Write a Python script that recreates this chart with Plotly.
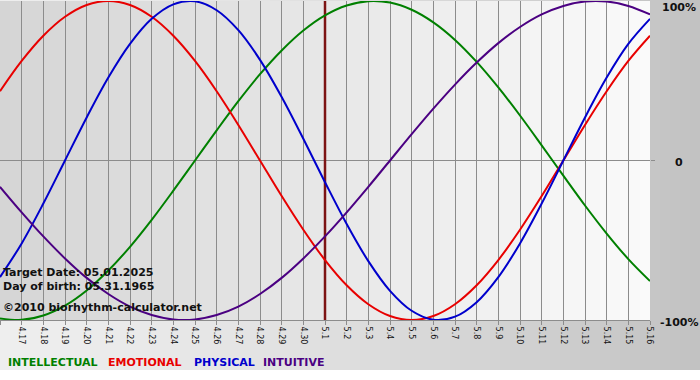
import plotly.graph_objects as go

# ---- data ----
day_labels = ["4.16", "4.17", "4.18", "4.19", "4.20", "4.21", "4.22", "4.23", "4.24", "4.25",
              "4.26", "4.27", "4.28", "4.29", "4.30", "5.1", "5.2", "5.3", "5.4", "5.5",
              "5.6", "5.7", "5.8", "5.9", "5.10", "5.11", "5.12", "5.13", "5.14", "5.15", "5.16"]
day_index = list(range(len(day_labels)))

intellectual = [-0.990, -0.999, -0.972, -0.910, -0.815, -0.690, -0.541, -0.372, -0.189, 0.000,
                0.189, 0.372, 0.541, 0.690, 0.815, 0.910, 0.972, 0.999, 0.990, 0.945,
                0.866, 0.756, 0.618, 0.458, 0.282, 0.095, -0.095, -0.282, -0.458, -0.618, -0.756]
emotional = [0.434, 0.624, 0.782, 0.901, 0.975, 1.000, 0.975, 0.901, 0.782, 0.624,
             0.434, 0.223, 0.000, -0.223, -0.434, -0.624, -0.782, -0.901, -0.975, -1.000,
             -0.975, -0.901, -0.782, -0.624, -0.434, -0.223, 0.000, 0.223, 0.434, 0.624, 0.782]
physical = [-0.731, -0.520, -0.270, 0.000, 0.270, 0.520, 0.731, 0.888, 0.979, 0.998,
            0.942, 0.817, 0.631, 0.398, 0.136, -0.136, -0.398, -0.631, -0.817, -0.942,
            -0.998, -0.979, -0.888, -0.731, -0.520, -0.270, 0.000, 0.270, 0.520, 0.731, 0.888]
intuitive = [-0.165, -0.325, -0.476, -0.614, -0.736, -0.837, -0.916, -0.969, -0.997, -0.997,
             -0.969, -0.916, -0.837, -0.736, -0.614, -0.476, -0.325, -0.165, 0.000, 0.165,
             0.325, 0.476, 0.614, 0.736, 0.837, 0.916, 0.969, 0.997, 0.997, 0.969, 0.916]

series_names = ["INTELLECTUAL", "EMOTIONAL", "PHYSICAL", "INTUITIVE"]
series_colors = ["#008000", "#e80000", "#0000cc", "#4b0082"]
target_label = "5.1"
y_tick_labels = ["100%", "0", "-100%"]

info_lines = ["Target Date: 05.01.2025", "Day of birth: 05.31.1965", "\u00a92010 biorhythm-calculator.net"]

FONT = "DejaVu Sans"

fig = go.Figure()
for name, vals, col in zip(series_names, [intellectual, emotional, physical, intuitive], series_colors):
    fig.add_trace(go.Scatter(x=day_index, y=vals, mode="lines", name=name,
                             line=dict(color=col, width=2, shape="spline", smoothing=1.0),
                             hoverinfo="skip"))

shapes = []
# outer background gradient (paper)
W, PW, PH = 700.0, 650.0, 319.0
n_out = 70
for i in range(n_out):
    p0 = W * i / n_out
    p1 = W * (i + 1) / n_out + 0.5
    t = i / (n_out - 1)
    c = int(round(238 - (238 - 194) * t ** 1.4))
    shapes.append(dict(type="rect", xref="paper", yref="paper", layer="below",
                       x0=p0 / PW, x1=p1 / PW, y0=-50 / PH, y1=1 + 2 / PH,
                       line=dict(width=0), fillcolor=f"rgb({c},{c},{c})"))
# plot area gradient
n_in = 65
xmax = len(day_labels) - 1
for i in range(n_in):
    x0 = xmax * i / n_in
    x1 = xmax * (i + 1) / n_in + 0.03
    t = i / (n_in - 1)
    c = int(round(213 + (250 - 213) * t))
    shapes.append(dict(type="rect", xref="x", yref="paper", layer="below",
                       x0=x0, x1=min(x1, xmax), y0=0, y1=1,
                       line=dict(width=0), fillcolor=f"rgb({c},{c},{c})"))
# target date marker
tx = day_labels.index(target_label)
shapes.append(dict(type="line", xref="x", yref="y", layer="between",
                   x0=tx, x1=tx, y0=-1, y1=1, line=dict(color="#7d1414", width=2.5)))

annotations = []
for txt, ys in zip(info_lines, [48, 34, 13]):
    annotations.append(dict(xref="paper", yref="paper", x=0, y=0, xanchor="left", yanchor="middle",
                            xshift=1, yshift=ys, text=f"<b>{txt}</b>", showarrow=False,
                            font=dict(family=FONT, size=11, color="#111111")))
for name, col, xs in zip(series_names, series_colors, [6, 106, 192, 261]):
    annotations.append(dict(xref="paper", yref="paper", x=0, y=0, xanchor="left", yanchor="middle",
                            xshift=xs, yshift=-42, text=f"<b>{name}</b>", showarrow=False,
                            font=dict(family=FONT, size=11, color=col)))
for lab, yv, ys in zip(y_tick_labels, [1, 0, -1], [-6, -1.5, -2]):
    annotations.append(dict(xref="paper", yref="y", x=1, y=yv, xanchor="center", yanchor="middle",
                            xshift=29, yshift=ys, text=f"<b>{lab}</b>", showarrow=False,
                            font=dict(family=FONT, size=11, color="#111111")))

fig.update_layout(
    width=700, height=380,
    margin=dict(l=0, r=50, t=1, b=60, pad=0),
    paper_bgcolor="white", plot_bgcolor="rgba(0,0,0,0)",
    showlegend=False, hovermode=False,
    shapes=shapes, annotations=annotations,
)
fig.update_xaxes(range=[0, xmax], tickmode="array", tickvals=day_index, ticktext=day_labels,
                 tickangle=90, tickfont=dict(family=FONT, size=8, color="#111111"),
                 showgrid=True, gridcolor="#8c8c8c", gridwidth=1,
                 ticks="outside", ticklen=4, tickcolor="#8c8c8c",
                 showline=True, linecolor="#8c8c8c", linewidth=1, zeroline=False, fixedrange=True)
fig.update_yaxes(range=[-1, 1], side="right", tickmode="array", tickvals=[0], showticklabels=False,
                 showgrid=True, gridcolor="#8c8c8c", gridwidth=1, zeroline=False,
                 ticks="outside", ticklen=4, tickcolor="#8c8c8c", showline=False, fixedrange=True)

fig.write_html("out.html", config={"displayModeBar": False, "staticPlot": True},
               post_script="document.body.style.margin='0';")
